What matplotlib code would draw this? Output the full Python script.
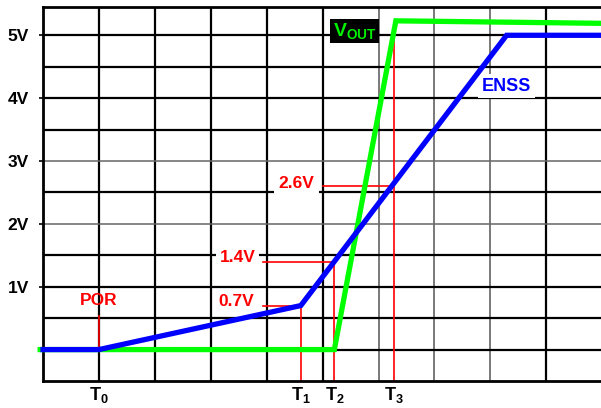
import matplotlib
matplotlib.use("Agg")
import matplotlib.pyplot as plt

plt.rcParams['font.family'] = ['Liberation Sans', 'DejaVu Sans']
plt.rcParams['font.weight'] = 'bold'
plt.rcParams['mathtext.fontset'] = 'custom'
plt.rcParams['mathtext.bf'] = 'Liberation Sans:bold'
plt.rcParams['mathtext.rm'] = 'Liberation Sans:bold'

# time marks (grid units) and labels
t_marks = [1.0, 4.61, 5.21, 6.27]
t_labels = [r'$\mathbf{T_0}$', r'$\mathbf{T_1}$', r'$\mathbf{T_2}$', r'$\mathbf{T_3}$']

# voltage axis
v_ticks = [1, 2, 3, 4, 5]
v_labels = ['1V', '2V', '3V', '4V', '5V']

# ENSS (blue) and VOUT (green) curves
enss_t = [0.0, 1.0, 4.61, 8.29, 10.0]
enss_v = [0.0, 0.0, 0.7, 5.0, 5.0]
vout_t = [-0.05, 5.21, 6.31, 10.0]
vout_v = [0.0, 0.0, 5.23, 5.19]

# marker levels
por_v = 0.54
lvl_t1 = 0.7
lvl_t2 = 1.4
lvl_t3 = 2.6
t3_top = 5.1

fig = plt.figure(figsize=(6.01, 4.08), dpi=100)
ax = fig.add_axes([43/601, 27/408, 1 - 43/601 + 0.002, (381 - 7)/408])
ax.set_xlim(0, 10)
ax.set_ylim(-0.5, 5.45)

# grid
for x in range(1, 10):
    if x in (6, 7, 8):
        ax.axvline(x, color='#555555', lw=1.1, zorder=1)
    else:
        ax.axvline(x, color='black', lw=1.6, zorder=1)
for k in range(0, 11):
    y = k * 0.5
    if y in (2.0, 3.0):
        ax.axhline(y, color='#666666', lw=1.1, zorder=1)
    else:
        ax.axhline(y, color='black', lw=1.6, zorder=1)

for s in ['left', 'bottom', 'top']:
    ax.spines[s].set_linewidth(2.0)
ax.spines['right'].set_visible(False)

red = '#ff0000'
# red marker lines
ax.plot([t_marks[0], t_marks[0]], [0, por_v], color=red, lw=1.2, zorder=2)
ax.plot([t_marks[1], t_marks[1]], [-0.5, lvl_t1], color=red, lw=1.2, zorder=2)
ax.plot([3.94, t_marks[1]], [lvl_t1, lvl_t1], color=red, lw=1.2, zorder=2)
ax.plot([t_marks[2], t_marks[2]], [-0.5, lvl_t2], color=red, lw=1.2, zorder=2)
ax.plot([3.94, t_marks[2]], [lvl_t2, lvl_t2], color=red, lw=1.2, zorder=2)
ax.plot([t_marks[3], t_marks[3]], [-0.5, t3_top], color=red, lw=1.2, zorder=2)
ax.plot([5.01, t_marks[3]], [lvl_t3, lvl_t3], color=red, lw=1.2, zorder=2)

# curves
ax.plot(vout_t, vout_v, color='#00ff00', lw=3.8, zorder=3, clip_on=False,
        solid_joinstyle='miter')
ax.plot(enss_t, enss_v, color='#0000ff', lw=3.8, zorder=6, clip_on=False,
        solid_joinstyle='miter')

# labels
ax.text(1.0, 0.78, 'POR', color=red, fontsize=12.5, fontweight='bold',
        ha='center', va='center', zorder=5)
ax.text(3.46, 0.77, '0.7V', color=red, fontsize=12.5, fontweight='bold',
        ha='center', va='center', zorder=5,
        bbox=dict(facecolor='white', edgecolor='none', pad=1))
ax.text(3.48, 1.47, '1.4V', color=red, fontsize=12.5, fontweight='bold',
        ha='center', va='center', zorder=5,
        bbox=dict(facecolor='white', edgecolor='none', pad=2.5))
ax.text(4.53, 2.65, '2.6V', color=red, fontsize=12.5, fontweight='bold',
        ha='center', va='center', zorder=5,
        bbox=dict(facecolor='white', edgecolor='none', pad=3.5))
ax.text(8.29, 4.19, 'ENSS', color='#0000ff', fontsize=13, fontweight='bold',
        ha='center', va='center', zorder=5,
        bbox=dict(facecolor='white', edgecolor='none', pad=2.5))
ax.text(5.57, 5.07, r'$\mathbf{V_{OUT}}$', color='#00ee00', fontsize=14,
        ha='center', va='center', zorder=5,
        bbox=dict(facecolor='black', edgecolor='none', pad=1.5))

ax.set_yticks(v_ticks)
ax.set_yticklabels(v_labels, fontsize=12.5, fontweight='bold')
ax.set_xticks(t_marks)
ax.set_xticklabels(t_labels, fontsize=13)
ax.tick_params(axis='y', length=3, width=1.2, pad=7)
ax.tick_params(axis='x', length=0, pad=3)

fig.savefig('out.png', dpi=100)
